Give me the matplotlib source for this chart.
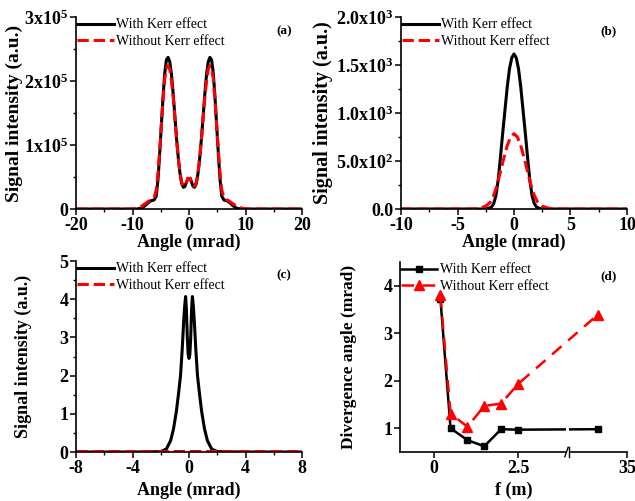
import numpy as np
import matplotlib
matplotlib.use("Agg")
import matplotlib.pyplot as plt
from matplotlib.ticker import FixedLocator
from matplotlib.lines import Line2D
from matplotlib.patches import Rectangle

plt.rcParams['font.family'] = ['Liberation Serif', 'DejaVu Serif']
plt.rcParams['mathtext.fontset'] = 'custom'
plt.rcParams['mathtext.rm'] = 'Liberation Serif'
plt.rcParams['mathtext.bf'] = 'Liberation Serif:bold'
plt.rcParams['mathtext.it'] = 'Liberation Serif:italic'

labels = ["With Kerr effect", "Without Kerr effect"]

# (a) angular profile, signal intensity (a.u.)
a_x_kerr = [-20, -15, -10, -9.3, -8.5, -7.8, -7.2, -6.7, -6.2, -5.8, -5.5, -5.2, -4.9, -4.6,
            -4.3, -4.0, -3.7, -3.4, -3.1, -2.8, -2.5, -2.2, -1.9, -1.6, -1.3, -1.0, -0.75,
            -0.45, -0.2, 0, 0.2, 0.45, 0.75, 1.0, 1.3, 1.6, 1.9, 2.2, 2.5, 2.8, 3.1, 3.4,
            3.7, 4.0, 4.3, 4.6, 4.9, 5.2, 5.5, 5.8, 6.2, 6.7, 7.2, 7.8, 8.5, 9.3, 10, 15, 20]
a_y_kerr = [0, 0, 0, 0, 0.01e5, 0.05e5, 0.10e5, 0.13e5, 0.14e5, 0.20e5, 0.45e5, 0.85e5,
            1.30e5, 1.75e5, 2.12e5, 2.33e5, 2.37e5, 2.30e5, 2.10e5, 1.80e5, 1.45e5, 1.10e5,
            0.80e5, 0.56e5, 0.40e5, 0.34e5, 0.35e5, 0.42e5, 0.48e5, 0.47e5, 0.48e5, 0.42e5,
            0.35e5, 0.34e5, 0.40e5, 0.56e5, 0.80e5, 1.10e5, 1.45e5, 1.80e5, 2.10e5, 2.30e5,
            2.37e5, 2.33e5, 2.12e5, 1.75e5, 1.30e5, 0.85e5, 0.45e5, 0.20e5, 0.14e5, 0.13e5,
            0.10e5, 0.05e5, 0.01e5, 0, 0, 0, 0]
a_x_free = [-20, -15, -10.5, -9.5, -8.5, -7.8, -7.2, -6.6, -6.1, -5.8, -5.5, -5.2, -4.9,
            -4.6, -4.3, -4.0, -3.7, -3.4, -3.1, -2.8, -2.5, -2.2, -1.9, -1.6, -1.3, -1.0,
            -0.75, -0.45, -0.2, 0, 0.2, 0.45, 0.75, 1.0, 1.3, 1.6, 1.9, 2.2, 2.5, 2.8, 3.1,
            3.4, 3.7, 4.0, 4.3, 4.6, 4.9, 5.2, 5.5, 5.8, 6.1, 6.6, 7.2, 7.8, 8.5, 9.5, 10.5,
            15, 20]
a_y_free = [0, 0, 0, 0.01e5, 0.04e5, 0.08e5, 0.12e5, 0.15e5, 0.20e5, 0.30e5, 0.55e5,
            0.90e5, 1.30e5, 1.70e5, 2.03e5, 2.20e5, 2.24e5, 2.18e5, 2.00e5, 1.75e5, 1.42e5,
            1.10e5, 0.80e5, 0.57e5, 0.42e5, 0.36e5, 0.36e5, 0.42e5, 0.48e5, 0.47e5, 0.48e5,
            0.42e5, 0.36e5, 0.36e5, 0.42e5, 0.57e5, 0.80e5, 1.10e5, 1.42e5, 1.75e5, 2.00e5,
            2.18e5, 2.24e5, 2.20e5, 2.03e5, 1.70e5, 1.30e5, 0.90e5, 0.55e5, 0.30e5, 0.20e5,
            0.15e5, 0.12e5, 0.08e5, 0.04e5, 0.01e5, 0, 0, 0]

# (b) angular profile
b_x_kerr = [-10, -5, -2.7, -2.3, -2.0, -1.8, -1.6, -1.4, -1.2, -1.0, -0.8, -0.6, -0.4,
            -0.2, 0, 0.2, 0.4, 0.6, 0.8, 1.0, 1.2, 1.4, 1.6, 1.8, 2.0, 2.3, 2.7, 5, 10]
b_y_kerr = [0, 0, 0, 5, 20, 55, 140, 300, 540, 790, 1030, 1270, 1460, 1575, 1615, 1575,
            1460, 1270, 1030, 790, 540, 300, 140, 55, 20, 5, 0, 0, 0]
b_x_free = [-10, -5, -4, -3.5, -3.0, -2.5, -2.1, -1.8, -1.5, -1.2, -0.9, -0.6, -0.3, 0,
            0.3, 0.6, 0.9, 1.2, 1.5, 1.8, 2.1, 2.5, 3.0, 3.5, 4, 5, 10]
b_y_free = [0, 0, 0, 2, 10, 30, 70, 140, 250, 390, 530, 660, 750, 785, 750, 660, 530, 390,
            250, 140, 70, 30, 10, 2, 0, 0, 0]

# (c) angular profile
c_x_kerr = [-8, -4, -2.0, -1.6, -1.3, -1.1, -0.9, -0.75, -0.6, -0.48, -0.38, -0.30, -0.24,
            -0.18, -0.12, -0.06, 0, 0.06, 0.12, 0.18, 0.24, 0.30, 0.38, 0.48, 0.6, 0.75,
            0.9, 1.1, 1.3, 1.6, 2.0, 4, 8]
c_y_kerr = [0, 0, 0.01, 0.08, 0.30, 0.60, 1.05, 1.50, 2.00, 2.70, 3.40, 3.85, 4.07, 3.70,
            3.00, 2.55, 2.45, 2.55, 3.00, 3.70, 4.07, 3.85, 3.40, 2.70, 2.00, 1.50, 1.05,
            0.60, 0.30, 0.08, 0.01, 0, 0]
c_x_free = [-8, -4, 0, 4, 8]
c_y_free = [0.02, 0.02, 0.02, 0.02, 0.02]

# (d) divergence angle vs focal length
f_m = [0.2, 0.5, 1.0, 1.5, 2.0, 2.5, 30]
div_kerr = [3.72, 1.00, 0.75, 0.62, 0.98, 0.97, 0.98]
div_free = [3.80, 1.31, 1.03, 1.47, 1.52, 1.93, 3.39]

# tick positions and labels
a_xticks, a_xminor = [-20, -10, 0, 10, 20], [-15, -5, 5, 15]
a_yticks, a_yminor = [0, 1e5, 2e5, 3e5], [0.5e5, 1.5e5, 2.5e5]
a_yticklabels = ['0', r'$\mathbf{1x10^{5}}$', r'$\mathbf{2x10^{5}}$', r'$\mathbf{3x10^{5}}$']
b_xticks, b_xminor = [-10, -5, 0, 5, 10], [-7.5, -2.5, 2.5, 7.5]
b_yticks, b_yminor = [0, 500, 1000, 1500, 2000], [250, 750, 1250, 1750]
b_yticklabels = ['0.0', r'$\mathbf{5.0x10^{2}}$', r'$\mathbf{1.0x10^{3}}$',
                 r'$\mathbf{1.5x10^{3}}$', r'$\mathbf{2.0x10^{3}}$']
c_xticks, c_xminor = [-8, -4, 0, 4, 8], [-6, -2, 2, 6]
c_yticks, c_yminor = [0, 1, 2, 3, 4, 5], [0.5, 1.5, 2.5, 3.5, 4.5]
d_xticks, d_xticklabels = [0, 2.5, 35], ['0', '2.5', '35']
d_yticks = [1, 2, 3, 4]

LW = 2.2
BLACK = '#000000'
RED = '#ff0000'

fig = plt.figure(figsize=(6.35, 5.01), dpi=100)
ax_a = fig.add_axes([0.1197, 0.5828, 0.3559, 0.3832])
ax_b = fig.add_axes([0.6315, 0.5828, 0.3559, 0.3832])
ax_c = fig.add_axes([0.1197, 0.0978, 0.3559, 0.3812])
ax_d = fig.add_axes([0.6299, 0.0978, 0.3575, 0.3792])


def set_ticks(ax, xt, yt, xm=(), ym=(), xl=None, yl=None):
    ax.xaxis.set_major_locator(FixedLocator(xt))
    ax.yaxis.set_major_locator(FixedLocator(yt))
    ax.xaxis.set_minor_locator(FixedLocator(list(xm)))
    ax.yaxis.set_minor_locator(FixedLocator(list(ym)))
    ax.set_xticklabels(xl if xl is not None else [f'{v:g}' for v in xt])
    ax.set_yticklabels(yl if yl is not None else [f'{v:g}' for v in yt])


def style(ax, tag, tick_fs=13):
    for s in ('top', 'right'):
        ax.spines[s].set_visible(False)
    for s in ('left', 'bottom'):
        ax.spines[s].set_linewidth(1.2)
    ax.tick_params(which='major', direction='out', length=4, width=1.1,
                   labelsize=tick_fs, pad=1.5)
    ax.tick_params(which='minor', direction='out', length=2, width=1.0)
    for lab in ax.get_xticklabels() + ax.get_yticklabels():
        lab.set_fontweight('bold')
    ax.text(0.92, 0.925, tag, transform=ax.transAxes, ha='center', va='center',
            fontsize=9.5, fontweight='bold')


def legend(ax):
    return ax.legend(loc='upper left', bbox_to_anchor=(0.0, 1.0), frameon=False,
                     fontsize=10, handlelength=2.6, handletextpad=0.2,
                     borderpad=0.1, borderaxespad=0.0, labelspacing=0.25)


# ---- (a)
ax_a.plot(a_x_kerr, a_y_kerr, color=BLACK, lw=LW, label=labels[0])
ax_a.plot(a_x_free, a_y_free, color=RED, lw=LW, ls='--', label=labels[1])
ax_a.set_xlim(-20, 20)
ax_a.set_ylim(0, 3e5)
set_ticks(ax_a, a_xticks, a_yticks, a_xminor, a_yminor, yl=a_yticklabels)
legend(ax_a)
style(ax_a, '(a)')
ax_a.set_xlabel('Angle (mrad)', fontsize=13, fontweight='bold')
ax_a.set_ylabel('Signal intensity (a.u.)', fontsize=14, fontweight='bold')
ax_a.xaxis.set_label_coords(0.5, -0.128)
ax_a.yaxis.set_label_coords(-0.235, 0.5)

# ---- (b)
ax_b.plot(b_x_kerr, b_y_kerr, color=BLACK, lw=LW, label=labels[0])
ax_b.plot(b_x_free, b_y_free, color=RED, lw=LW, ls='--', label=labels[1])
ax_b.set_xlim(-10, 10)
ax_b.set_ylim(0, 2000)
set_ticks(ax_b, b_xticks, b_yticks, b_xminor, b_yminor, yl=b_yticklabels)
legend(ax_b)
style(ax_b, '(b)')
ax_b.set_xlabel('Angle (mrad)', fontsize=13, fontweight='bold')
ax_b.set_ylabel('Signal intensity (a.u.)', fontsize=14.5, fontweight='bold')
ax_b.xaxis.set_label_coords(0.5, -0.128)
ax_b.yaxis.set_label_coords(-0.30, 0.5)

# ---- (c)
ax_c.plot(c_x_kerr, c_y_kerr, color=BLACK, lw=LW, label=labels[0])
ax_c.plot(c_x_free, c_y_free, color=RED, lw=LW, ls='--', label=labels[1])
ax_c.set_xlim(-8, 8)
ax_c.set_ylim(0, 5)
set_ticks(ax_c, c_xticks, c_yticks, c_xminor, c_yminor)
legend(ax_c)
style(ax_c, '(c)')
ax_c.set_xlabel('Angle (mrad)', fontsize=13, fontweight='bold')
ax_c.set_ylabel('Signal intensity (a.u.)', fontsize=13, fontweight='bold')
ax_c.xaxis.set_label_coords(0.5, -0.155)
ax_c.yaxis.set_label_coords(-0.195, 0.5)

# ---- (d) with a broken x axis between 4 and 25 m
BREAK_LO, BREAK_HI, K_RIGHT = 4.0, 25.0, 0.1735


def _fwd(x):
    x = np.asarray(x, dtype=float)
    return np.where(x <= BREAK_LO, x,
                    np.where(x >= BREAK_HI, BREAK_LO + (x - BREAK_HI) * K_RIGHT, BREAK_LO))


def _inv(y):
    y = np.asarray(y, dtype=float)
    return np.where(y <= BREAK_LO, y, BREAK_HI + (y - BREAK_LO) / K_RIGHT)


ax_d.set_xscale('function', functions=(_fwd, _inv))
ax_d.plot(f_m, div_kerr, color=BLACK, lw=1.8, marker='s', ms=5, label=labels[0])
ax_d.plot(f_m, div_free, color=RED, lw=1.8, ls='--', marker='^', ms=6.5,
          dashes=(5, 3.5), label=labels[1])
ax_d.set_xlim(-1, 35)
ax_d.set_ylim(0.5, 4.5)
set_ticks(ax_d, d_xticks, d_yticks, xl=d_xticklabels)
legend(ax_d)
style(ax_d, '(d)')
ax_d.set_xlabel('f (m)', fontsize=13, fontweight='bold')
ax_d.set_ylabel('Divergence angle (mrad)', fontsize=12.5, fontweight='bold')
ax_d.xaxis.set_label_coords(0.5, -0.155)
ax_d.yaxis.set_label_coords(-0.19, 0.5)

# break markers: gap in the black trace and in the bottom spine, plus "//"
xt = ax_d.get_xaxis_transform()
ax_d.add_patch(Rectangle((3.93, 0.90), 0.12, 0.16, facecolor='white', edgecolor='none',
                         zorder=5))
ax_d.add_patch(Rectangle((3.92, -0.02), 0.16, 0.04, transform=xt, facecolor='white',
                         edgecolor='none', clip_on=False, zorder=5))
for dx in (-0.05, 0.07):
    ax_d.add_line(Line2D([3.94 + dx, 4.04 + dx], [-0.025, 0.025], transform=xt,
                         color='black', lw=1.0, clip_on=False, zorder=6))

fig.savefig('out.png', dpi=100)
